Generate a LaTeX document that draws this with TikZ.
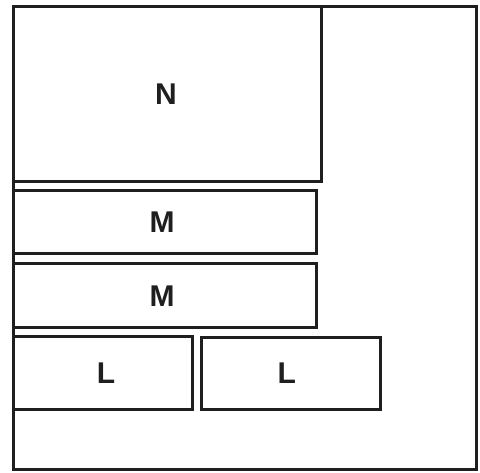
\documentclass[tikz,border=0pt]{standalone}
\usepackage{fontspec}
\setmainfont{Liberation Sans}
\begin{document}
\begin{tikzpicture}[x=1pt,y=-1pt,
  box/.style={draw=black!88, line width=3pt, rectangle, inner sep=0pt, font=\bfseries\fontsize{30}{30}\selectfont, text=black!88},
  frame/.style={draw=black!88, line width=3pt, rectangle, inner sep=0pt}]
\useasboundingbox (0,0) rectangle (480,472);
\node[frame, minimum width=462.5pt, minimum height=463pt] (outer) at (244.75,238) {};
\node[box, minimum width=308pt, minimum height=175pt] (n) at (167.5,94) {N\hspace*{3pt}};
\node[box, minimum width=303pt, minimum height=63pt] (m1) at (165,222) {M\hspace*{6pt}};
\node[box, minimum width=303pt, minimum height=64pt] (m2) at (165,295.75) {M\hspace*{6pt}};
\node[box, minimum width=179pt, minimum height=73pt] (l1) at (103,373) {\hspace*{6pt}L};
\node[box, minimum width=178.5pt, minimum height=72.5pt] (l2) at (290.75,373.25) {L\hspace*{8pt}};
\end{tikzpicture}
\end{document}
